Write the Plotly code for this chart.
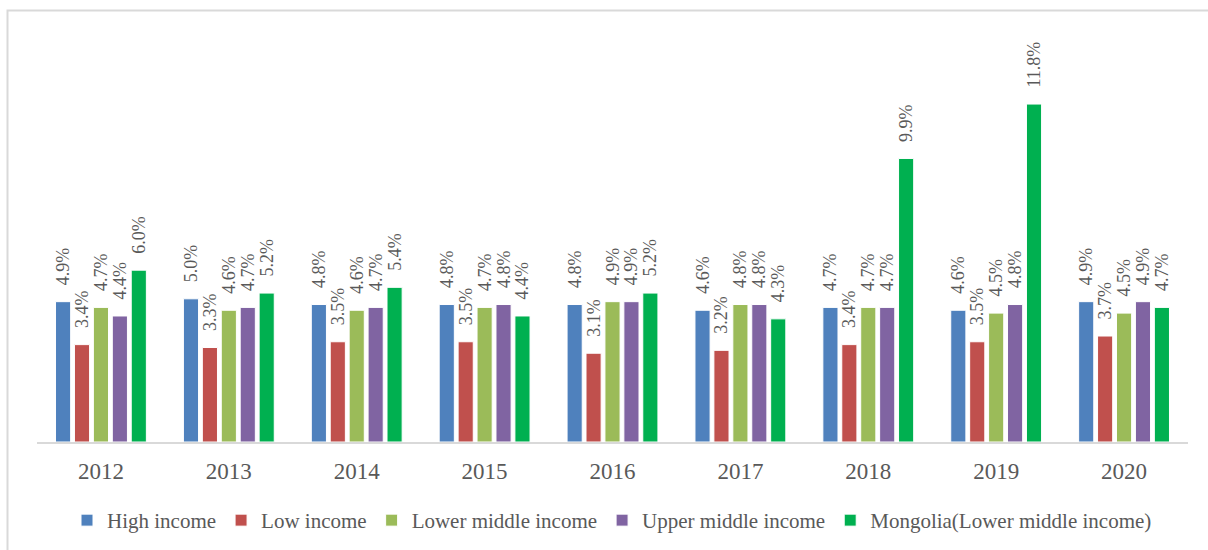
import plotly.graph_objects as go

years = ["2012", "2013", "2014", "2015", "2016", "2017", "2018", "2019", "2020"]

high_income = [4.9, 5.0, 4.8, 4.8, 4.8, 4.6, 4.7, 4.6, 4.9]
low_income = [3.4, 3.3, 3.5, 3.5, 3.1, 3.2, 3.4, 3.5, 3.7]
lower_middle_income = [4.7, 4.6, 4.6, 4.7, 4.9, 4.8, 4.7, 4.5, 4.5]
upper_middle_income = [4.4, 4.7, 4.7, 4.8, 4.9, 4.8, 4.7, 4.8, 4.9]
mongolia = [6.0, 5.2, 5.4, 4.4, 5.2, 4.3, 9.9, 11.8, 4.7]

series = [
    ("High income", high_income, "#4F81BD"),
    ("Low income", low_income, "#C0504D"),
    ("Lower middle income", lower_middle_income, "#9BBB59"),
    ("Upper middle income", upper_middle_income, "#8064A2"),
    ("Mongolia(Lower middle income)", mongolia, "#00B050"),
]

FONT = "Liberation Serif"
TEXT_COLOR = "#595959"
PAD = "\u00a0\u00a0\u00a0"

fig = go.Figure()
for name, values, color in series:
    fig.add_trace(go.Bar(
        name=name,
        x=years,
        y=values,
        marker=dict(color=color, line=dict(color="white", width=1)),
        text=[PAD + f"{v:.1f}%" for v in values],
        textposition="outside",
        textangle=-90,
        constraintext="none",
        cliponaxis=False,
        textfont=dict(family=FONT, size=18, color=TEXT_COLOR),
    ))

L, R, T, B = 37, 20, 30, 108
W, H = 1208, 550
pw, ph = W - L - R, H - T - B

fig.update_layout(
    width=W,
    height=H,
    margin=dict(l=L, r=R, t=T, b=B, pad=0, autoexpand=False),
    barmode="group",
    bargap=0.26,
    bargroupgap=0.2,
    plot_bgcolor="white",
    paper_bgcolor="white",
    font=dict(family=FONT, color=TEXT_COLOR),
    showlegend=True,
    legend=dict(
        orientation="h",
        x=(612 - L) / pw,
        xanchor="center",
        y=-78.5 / ph,
        yanchor="middle",
        font=dict(family=FONT, size=21, color=TEXT_COLOR),
        itemwidth=30,
        traceorder="normal",
    ),
    xaxis=dict(
        type="category",
        automargin=False,
        showline=True,
        linecolor="#D9D9D9",
        linewidth=1.5,
        showgrid=False,
        ticks="",
        ticklabelstandoff=8,
        tickfont=dict(family=FONT, size=23, color=TEXT_COLOR),
    ),
    yaxis=dict(
        automargin=False,
        range=[0, ph / 28.64],
        visible=False,
        showgrid=False,
        zeroline=False,
    ),
    shapes=[
        dict(
            type="rect",
            xref="paper",
            yref="paper",
            x0=(7.5 - L) / pw,
            x1=(W + 10 - L) / pw,
            y0=-(H + 10 - (H - B)) / ph,
            y1=(H - B - 10.5) / ph,
            line=dict(color="#D9D9D9", width=2),
            fillcolor="rgba(0,0,0,0)",
            layer="below",
        )
    ],
)

fig.write_html("out.html")
